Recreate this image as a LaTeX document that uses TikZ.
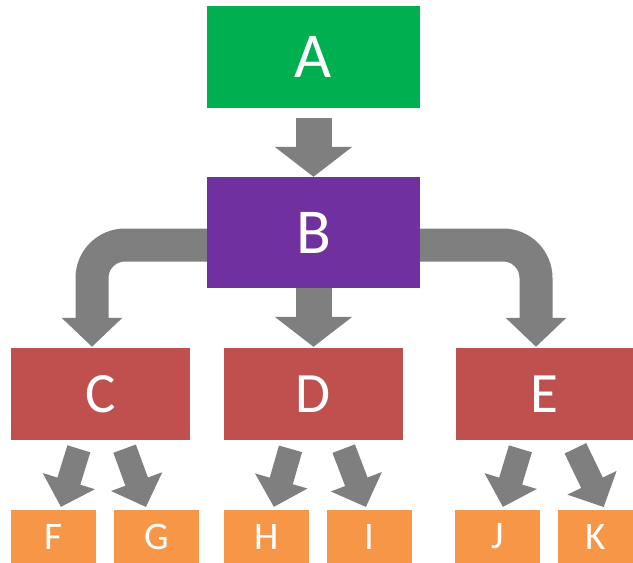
\documentclass[tikz,border=0pt]{standalone}
\usepackage{fontspec}
\setmainfont{Carlito}
\usetikzlibrary{arrows.meta}
\pgfdeclarelayer{bg}
\pgfsetlayers{bg,main}
\definecolor{cgreen}{HTML}{00B050}
\definecolor{cpurple}{HTML}{7030A0}
\definecolor{cred}{HTML}{C0504D}
\definecolor{corange}{HTML}{F79646}
\definecolor{cgray}{HTML}{7F7F7F}
\tikzset{
  boxbase/.style={rectangle, inner sep=0pt, text=white},
  topbox/.style={boxbase, fill=#1, minimum width=213pt, font=\fontsize{64}{64}\selectfont},
  midbox/.style={boxbase, fill=cred, minimum width=179pt, minimum height=92pt, font=\fontsize{57}{57}\selectfont},
  leafbox/.style={boxbase, fill=corange, minimum width=85pt, minimum height=53pt, font=\fontsize{39}{39}\selectfont},
  bigarrow/.style={draw=cgray, line width=36pt, -{Triangle[length=30pt,width=76pt]}},
  bendarrow/.style={draw=cgray, line width=33pt, rounded corners=33pt, -{Triangle[length=29pt,width=59pt]}},
  smallarrow/.style={draw=cgray, line width=24pt, shorten <=9pt, shorten >=3pt, -{Triangle[length=27pt,width=53pt]}}
}
\begin{document}
\begin{tikzpicture}[x=1pt,y=-1pt]
\useasboundingbox (0,0) rectangle (633,563);
% nodes
\node[topbox=cgreen, minimum height=102pt] (A) at (313.5,57) {A};
\node[topbox=cpurple, minimum height=111pt] (B) at (313.5,232.5) {B};
\node[midbox] (C) at (100.5,394) {C};
\node[midbox] (D) at (313.5,394) {D};
\node[midbox, minimum width=177pt] (E) at (544.5,394) {E};
\node[leafbox] (F) at (53.5,536.5) {F};
\node[leafbox] (G) at (156.5,536.5) {G};
\node[leafbox] (H) at (266.5,536.5) {H};
\node[leafbox] (I) at (369.5,536.5) {I};
\node[leafbox] (J) at (497.5,536.5) {J};
\node[leafbox, minimum width=75pt] (K) at (595.5,536.5) {K};
% connectors behind the boxes
\begin{pgfonlayer}{bg}
\path[bigarrow, shorten <=10pt] (A.south) -- (B.north);
\path[bigarrow, shorten >=1pt] (B.south) -- (D.north);
\path[bendarrow, shorten >=1pt] ([yshift=-12.5pt]B.west) -| ([xshift=-8.5pt]C.north);
\path[bendarrow, shorten >=1pt] ([yshift=-12.5pt]B.east) -| ([xshift=-8.5pt]E.north);
\path[smallarrow] ([xshift=-19pt]C.south) -- ([xshift=6.5pt]F.north);
\path[smallarrow] ([xshift=21pt]C.south) -- ([xshift=-9.5pt]G.north);
\path[smallarrow] ([xshift=-20.5pt]D.south) -- ([xshift=6.5pt]H.north);
\path[smallarrow] ([xshift=27pt]D.south) -- ([xshift=-2.5pt]I.north);
\path[smallarrow] ([xshift=-21.5pt]E.south) -- ([xshift=4.5pt]J.north);
\path[smallarrow] ([xshift=27pt]E.south) -- ([xshift=9.5pt]K.north);
\end{pgfonlayer}
\end{tikzpicture}
\end{document}
